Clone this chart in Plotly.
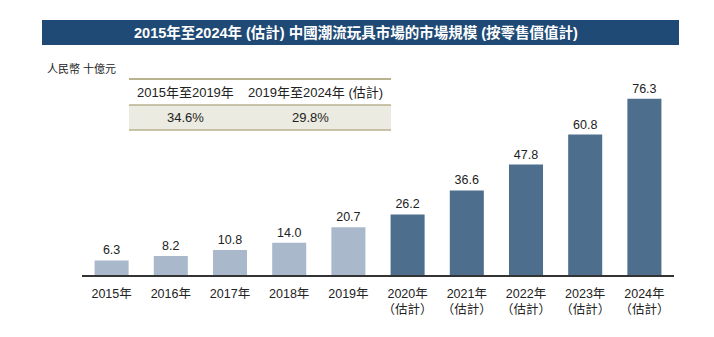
import plotly.graph_objects as go

# Market size of China's trendy toys, RMB billion
years = ["2015年", "2016年", "2017年", "2018年", "2019年",
         "2020年<br>（估計）", "2021年<br>（估計）", "2022年<br>（估計）",
         "2023年<br>（估計）", "2024年<br>（估計）"]
values = [6.3, 8.2, 10.8, 14.0, 20.7, 26.2, 36.6, 47.8, 60.8, 76.3]
is_estimate = [False] * 5 + [True] * 5

cagr_headers = ["2015年至2019年", "2019年至2024年 (估計)"]
cagr_values = ["34.6%", "29.8%"]

title_text = "2015年至2024年 (估計) 中國潮流玩具市場的市場規模 (按零售價值計)"
unit_text = "人民幣 十億元"

FONT = "Liberation Sans, Arial, Noto Sans CJK TC, sans-serif"
LIGHT = "#a9b9cb"
DARK = "#4e6e8e"
NAVY = "#1f4a75"
OLIVE = "#b9b28e"
SHADE = "#ecebe1"

W, H = 714, 337
ML, MR, MT, MB = 82, 40, 80, 62
PW, PH = W - ML - MR, H - MT - MB


def px(x):
    return (x - ML) / PW


def py(y):
    return (H - MB - y) / PH


fig = go.Figure()
fig.add_trace(go.Bar(
    x=list(range(len(years))),
    y=values,
    marker=dict(color=[DARK if e else LIGHT for e in is_estimate], line=dict(width=0)),
    width=0.575,
    text=[f"{v:.1f}" for v in values],
    textposition="outside",
    textfont=dict(size=12.5, color="#222222", family=FONT),
    cliponaxis=False,
    hoverinfo="skip",
))

shapes = [
    # title bar
    dict(type="rect", xref="paper", yref="paper", x0=px(42), x1=px(679),
         y0=py(45), y1=py(20), fillcolor=NAVY, line=dict(width=0), layer="below"),
    # CAGR table
    dict(type="rect", xref="paper", yref="paper", x0=px(129), x1=px(391),
         y0=py(130), y1=py(105), fillcolor=SHADE, line=dict(width=0), layer="below"),
    dict(type="line", xref="paper", yref="paper", x0=px(129), x1=px(391),
         y0=py(79), y1=py(79), line=dict(color=OLIVE, width=2)),
    dict(type="line", xref="paper", yref="paper", x0=px(129), x1=px(391),
         y0=py(105), y1=py(105), line=dict(color=OLIVE, width=1.5)),
    dict(type="line", xref="paper", yref="paper", x0=px(129), x1=px(391),
         y0=py(130), y1=py(130), line=dict(color=OLIVE, width=1.5)),
]

annotations = [
    dict(text=f"<b>{title_text}</b>", xref="paper", yref="paper", x=px(356), y=py(32.5),
         xanchor="center", yanchor="middle", showarrow=False,
         font=dict(size=14.5, color="white", family=FONT)),
    dict(text=unit_text, xref="paper", yref="paper", x=px(45), y=py(68),
         xanchor="left", yanchor="middle", showarrow=False,
         font=dict(size=11, color="#222222", family=FONT)),
]
for cx, head in zip([185, 315], cagr_headers):
    annotations.append(dict(text=head, xref="paper", yref="paper", x=px(cx), y=py(92),
                            xanchor="center", yanchor="middle", showarrow=False,
                            font=dict(size=13, color="#222222", family=FONT)))
for cx, val in zip([185, 310], cagr_values):
    annotations.append(dict(text=val, xref="paper", yref="paper", x=px(cx), y=py(117.5),
                            xanchor="center", yanchor="middle", showarrow=False,
                            font=dict(size=13, color="#222222", family=FONT)))

fig.update_layout(
    width=W, height=H,
    margin=dict(l=ML, r=MR, t=MT, b=MB, pad=0),
    paper_bgcolor="white", plot_bgcolor="white",
    showlegend=False,
    shapes=shapes,
    annotations=annotations,
    font=dict(family=FONT, color="#222222"),
    xaxis=dict(
        tickmode="array", tickvals=list(range(len(years))), ticktext=years,
        range=[-0.5, len(years) - 0.5],
        showgrid=False, zeroline=False, showline=True, linecolor="#333333", linewidth=1.5,
        ticks="", ticklabelstandoff=6,
        tickfont=dict(size=12.5, color="#222222", family=FONT),
    ),
    yaxis=dict(range=[0, 84.4], visible=False, showgrid=False, zeroline=False),
)

fig.write_html("out.html")
